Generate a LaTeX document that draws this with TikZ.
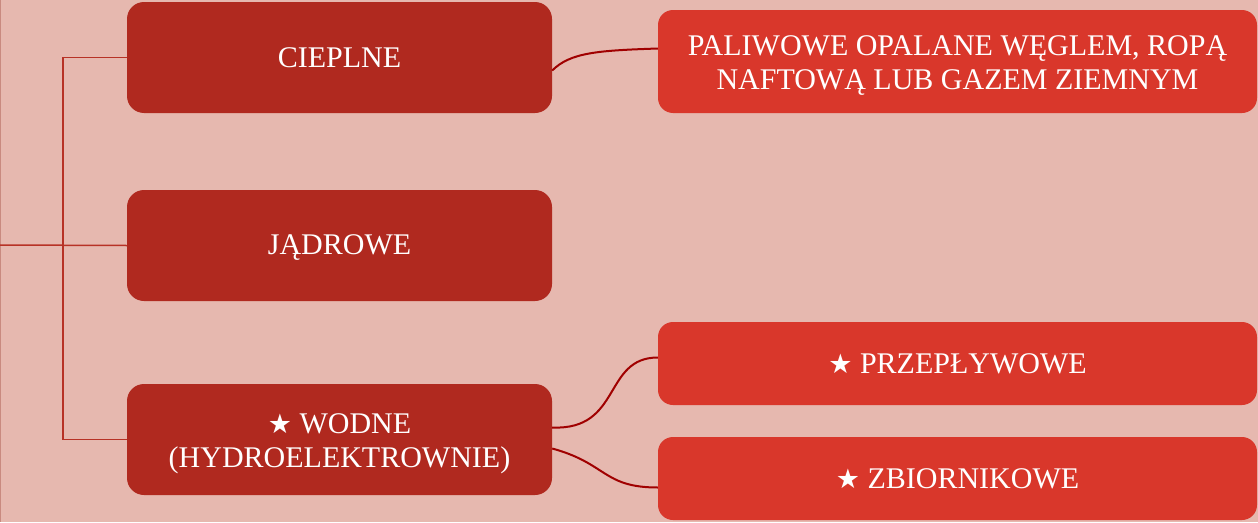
\documentclass[tikz,border=0pt]{standalone}
\usepackage{fontspec}
\setmainfont{Liberation Serif}
\newfontfamily\symf{DejaVu Sans}
\usetikzlibrary{calc}
\definecolor{bgc}{HTML}{E6B8AF}
\definecolor{darkbox}{HTML}{B0291F}
\definecolor{brightbox}{HTML}{D9372B}
\definecolor{trunkc}{HTML}{B73226}
\definecolor{curvec}{HTML}{A00000}
\definecolor{edgec}{HTML}{C98A80}
\newcommand{\mystar}{{\symf\fontsize{27}{32}\selectfont ★}}
\newcommand{\topstrut}[1]{\rule{0pt}{#1}}
\tikzset{
  darkstep/.style={draw=none, fill=darkbox, rounded corners=17pt, minimum width=425pt, minimum height=111pt, inner sep=0pt, text=white, align=center, font=\fontsize{30}{34}\selectfont},
  brightstep/.style={draw=none, fill=brightbox, rounded corners=15pt, minimum width=599pt, inner sep=0pt, text=white, align=center, font=\fontsize{30}{34}\selectfont},
  trunkline/.style={draw=trunkc, line width=1.5pt},
  curveline/.style={draw=curvec, line width=2pt}
}
\begin{document}
\begin{tikzpicture}[x=1pt,y=-1pt]
\fill[bgc] (0,0) rectangle (1258,522);
\useasboundingbox (0,0) rectangle (1258,522);
\draw[edgec, line width=1.2pt] (0.6,0) -- (0.6,522);

\node[darkstep] (cieplne) at (339.5,57.5) {CIEPLNE};
\node[darkstep, text height=21pt, text depth=3pt] (jadrowe) at (339.5,245.5) {JĄDROWE};
\node[darkstep] (wodne) at (339.5,439.5) {\topstrut{29pt}\mystar{} WODNE\\(HYDROELEKTROWNIE)};

\node[brightstep, minimum height=103pt] (paliwowe) at (957.5,61.5) {\topstrut{28pt}PALIWOWE OPALANE WĘGLEM, ROPĄ\\NAFTOWĄ LUB GAZEM ZIEMNYM};
\node[brightstep, minimum height=83pt] (przeplywowe) at (957.5,363.5) {\mystar{} PRZEPŁYWOWE};
\node[brightstep, minimum height=83pt] (zbiornikowe) at (957.5,478.5) {\mystar{} ZBIORNIKOWE};

\coordinate (root) at (0,245);
\draw[trunkline] (root) -- (jadrowe.west);
\draw[trunkline] (cieplne.west) -- ++(-64,0) |- (wodne.west);

\draw[curveline] ($(cieplne.east)+(0,13)$) .. controls +(18,-18) and +(-60,2) .. ($(paliwowe.west)+(0,-13)$);
\draw[curveline] ($(wodne.east)+(0,-12)$) .. controls +(70,3) and +(-55,0) .. ($(przeplywowe.west)+(0,-6)$);
\draw[curveline] ($(wodne.east)+(0,9)$) .. controls +(55,15) and +(-55,0) .. ($(zbiornikowe.west)+(0,9)$);
\end{tikzpicture}
\end{document}
